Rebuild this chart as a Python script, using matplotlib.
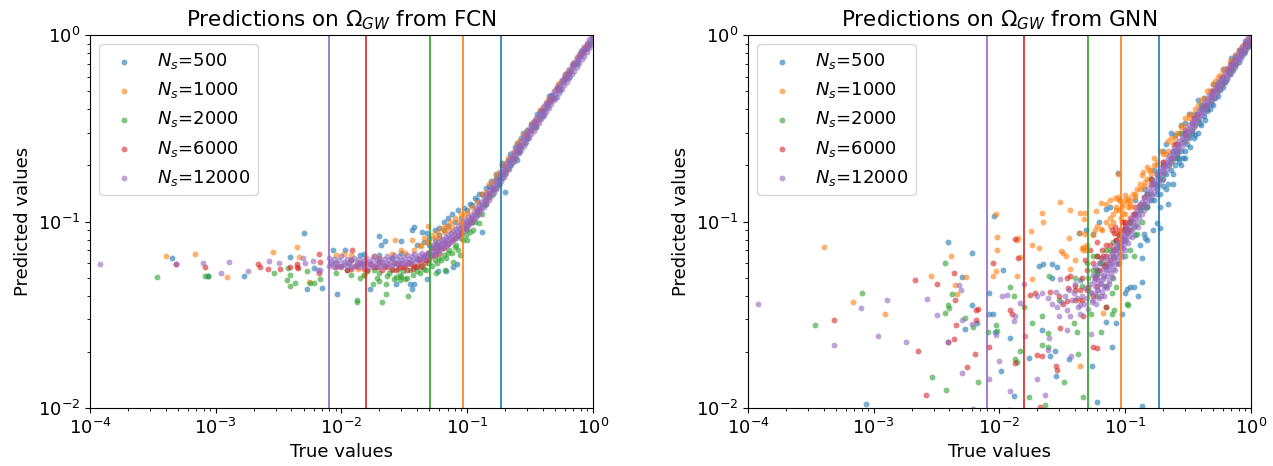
import numpy as np
import matplotlib
matplotlib.use("Agg")
import matplotlib.pyplot as plt

# sample sizes and the threshold lines (true value below which predictions degrade)
sizes = [500, 1000, 2000, 6000, 12000]
thresholds = [0.186, 0.0925, 0.0506, 0.0157, 0.0079]
colors = ["C0", "C1", "C2", "C3", "C4"]

# ---- FCN panel, (true, predicted) pairs ----
fcn_500 = [(4.5e-4, 0.0635), (8.6e-4, 0.0512), (1.69e-3, 0.0512), (3.9e-3, 0.0648), (5.06e-3, 0.0864),
           (5.35e-3, 0.0435), (6.1e-3, 0.0565), (6.96e-3, 0.0441), (0.0086, 0.0705), (0.0092, 0.041),
           (0.0107, 0.0705), (0.014, 0.0662), (0.017, 0.0435), (0.020, 0.0836), (0.0205, 0.0745),
           (0.022, 0.0789), (0.0298, 0.0782), (0.0362, 0.090), (0.0377, 0.093), (0.0437, 0.088),
           (0.0475, 0.0865), (0.0273, 0.0462), (0.0348, 0.0465), (0.038, 0.0462), (0.0362, 0.0435),
           (0.0475, 0.0495), (0.0585, 0.054), (0.0675, 0.0546), (0.0824, 0.0593), (0.0775, 0.0573),
           (0.1318, 0.088), (0.20, 0.144), (0.247, 0.213), (0.012, 0.062), (0.025, 0.064),
           (0.05, 0.075), (0.055, 0.08), (0.06, 0.085), (0.065, 0.09), (0.07, 0.095), (0.08, 0.10),
           (0.09, 0.105), (0.10, 0.115), (0.11, 0.122), (0.12, 0.13), (0.13, 0.14), (0.15, 0.155),
           (0.17, 0.172), (0.19, 0.20), (0.21, 0.215), (0.24, 0.25), (0.27, 0.28), (0.30, 0.31),
           (0.34, 0.345), (0.38, 0.39), (0.42, 0.43), (0.47, 0.48), (0.52, 0.53), (0.58, 0.57),
           (0.64, 0.63), (0.70, 0.70), (0.78, 0.76), (0.86, 0.84), (0.95, 0.91), (0.16, 0.15),
           (0.22, 0.20), (0.30, 0.28), (0.40, 0.37), (0.55, 0.51), (0.75, 0.70),
           (0.04, 0.075), (0.045, 0.078), (0.05, 0.082), (0.055, 0.09), (0.06, 0.092), (0.065, 0.10),
           (0.07, 0.105), (0.075, 0.11), (0.085, 0.115), (0.095, 0.118), (0.105, 0.125), (0.115, 0.133),
           (0.125, 0.14), (0.14, 0.152), (0.155, 0.165), (0.17, 0.18), (0.19, 0.205), (0.22, 0.23),
           (0.25, 0.265), (0.28, 0.30), (0.32, 0.335), (0.36, 0.38), (0.45, 0.47), (0.60, 0.62),
           (0.80, 0.82), (0.18, 0.16), (0.26, 0.24), (0.35, 0.32), (0.50, 0.46), (0.65, 0.60),
           (0.90, 0.85), (0.02, 0.066), (0.03, 0.068), (0.015, 0.067)]
fcn_1000 = [(4.0e-4, 0.0653), (6.9e-4, 0.0667), (1.23e-3, 0.0504), (2.84e-3, 0.0684), (4.46e-3, 0.0727),
            (4.6e-3, 0.0648), (5.5e-3, 0.0476), (0.0266, 0.0797), (0.0362, 0.0797), (0.049, 0.0945),
            (0.009, 0.066), (0.0105, 0.067), (0.012, 0.062), (0.015, 0.052), (0.0135, 0.056),
            (0.020, 0.064), (0.030, 0.070), (0.042, 0.075), (0.045, 0.082), (0.05, 0.078),
            (0.055, 0.082), (0.06, 0.083), (0.065, 0.088), (0.07, 0.09), (0.075, 0.094), (0.085, 0.10),
            (0.095, 0.108), (0.10, 0.112), (0.11, 0.12), (0.12, 0.128), (0.14, 0.145), (0.16, 0.165),
            (0.18, 0.185), (0.20, 0.205), (0.23, 0.235), (0.26, 0.27), (0.30, 0.305), (0.35, 0.355),
            (0.40, 0.41), (0.45, 0.46), (0.50, 0.51), (0.56, 0.57), (0.63, 0.64), (0.70, 0.71),
            (0.80, 0.80), (0.90, 0.90), (0.98, 0.97),
            (0.012, 0.066), (0.018, 0.065), (0.025, 0.067), (0.032, 0.068), (0.038, 0.07),
            (0.043, 0.074), (0.048, 0.078), (0.052, 0.085), (0.058, 0.088), (0.063, 0.092),
            (0.068, 0.095), (0.073, 0.10), (0.08, 0.105), (0.09, 0.11), (0.13, 0.14), (0.15, 0.16),
            (0.17, 0.178), (0.19, 0.20), (0.21, 0.22), (0.25, 0.26), (0.28, 0.29), (0.33, 0.34),
            (0.38, 0.395), (0.43, 0.445), (0.53, 0.55), (0.60, 0.615), (0.75, 0.765), (0.85, 0.86)]
fcn_2000 = [(3.4e-4, 0.0506), (8.2e-4, 0.0512), (8.6e-4, 0.0512), (2.9e-3, 0.0532), (3.75e-3, 0.0565),
            (3.87e-3, 0.0517), (3.7e-3, 0.0483), (3.9e-3, 0.0454), (4.3e-3, 0.047), (5.35e-3, 0.054),
            (5.6e-3, 0.047), (6.1e-3, 0.047), (6.7e-3, 0.0494), (0.0132, 0.0378), (0.0133, 0.0372),
            (0.0178, 0.0462), (0.020, 0.0481), (0.0227, 0.046), (0.0227, 0.041), (0.021, 0.0372),
            (0.0273, 0.0506), (0.0292, 0.0484), (0.032, 0.0495), (0.0335, 0.040), (0.030, 0.0506),
            (0.0567, 0.0527), (0.066, 0.055), (0.0775, 0.0609), (0.087, 0.0662), (0.099, 0.0797),
            (0.111, 0.090), (0.125, 0.098), (0.009, 0.053), (0.011, 0.055), (0.015, 0.052),
            (0.018, 0.055), (0.024, 0.053), (0.028, 0.056), (0.035, 0.055), (0.040, 0.054),
            (0.045, 0.056), (0.05, 0.060), (0.055, 0.062), (0.06, 0.064), (0.07, 0.068), (0.08, 0.073),
            (0.09, 0.082), (0.10, 0.09), (0.11, 0.10), (0.12, 0.108), (0.135, 0.122), (0.15, 0.135),
            (0.17, 0.152), (0.19, 0.172), (0.21, 0.192), (0.24, 0.22), (0.27, 0.25), (0.30, 0.28),
            (0.34, 0.32), (0.38, 0.36), (0.43, 0.41), (0.48, 0.46), (0.54, 0.52), (0.60, 0.58),
            (0.67, 0.65), (0.75, 0.72), (0.84, 0.81), (0.93, 0.90),
            (0.012, 0.052), (0.014, 0.050), (0.016, 0.054), (0.019, 0.050), (0.020, 0.053),
            (0.023, 0.051), (0.025, 0.055), (0.026, 0.049), (0.029, 0.052), (0.031, 0.054),
            (0.033, 0.050), (0.037, 0.052), (0.039, 0.057), (0.042, 0.053), (0.044, 0.058),
            (0.047, 0.055), (0.052, 0.058), (0.058, 0.060), (0.062, 0.062), (0.065, 0.066),
            (0.068, 0.064), (0.072, 0.070), (0.076, 0.068), (0.082, 0.075), (0.085, 0.070),
            (0.093, 0.080), (0.097, 0.085), (0.105, 0.088), (0.115, 0.10), (0.13, 0.11),
            (0.14, 0.125), (0.16, 0.14), (0.18, 0.16), (0.20, 0.18), (0.23, 0.21), (0.26, 0.235),
            (0.29, 0.265)]
fcn_6000 = [(4.8e-4, 0.059), (8.2e-4, 0.0573), (2.16e-3, 0.059), (2.24e-3, 0.0573), (2.6e-3, 0.0558),
            (3.24e-3, 0.0558), (3.87e-3, 0.0573), (4.4e-3, 0.0573), (4.5e-3, 0.0565), (4.45e-3, 0.059),
            (6.6e-3, 0.0667), (6.8e-3, 0.0609), (6.6e-3, 0.0527), (0.0121, 0.070), (0.009, 0.057),
            (0.011, 0.055), (0.013, 0.058), (0.015, 0.056), (0.017, 0.059), (0.019, 0.057),
            (0.022, 0.058), (0.025, 0.056), (0.028, 0.059), (0.031, 0.057), (0.034, 0.060),
            (0.038, 0.058), (0.042, 0.061), (0.046, 0.060), (0.05, 0.063), (0.055, 0.066), (0.06, 0.068),
            (0.065, 0.072), (0.07, 0.076), (0.08, 0.082), (0.09, 0.088), (0.10, 0.096), (0.11, 0.104),
            (0.125, 0.117), (0.14, 0.13), (0.16, 0.15), (0.18, 0.17), (0.20, 0.19), (0.23, 0.22),
            (0.26, 0.25), (0.30, 0.29), (0.35, 0.34), (0.40, 0.39), (0.46, 0.45), (0.53, 0.52),
            (0.60, 0.59), (0.70, 0.69), (0.80, 0.79), (0.90, 0.88), (1.0, 0.97),
            (0.010, 0.058), (0.012, 0.056), (0.014, 0.060), (0.016, 0.055), (0.018, 0.057),
            (0.020, 0.061), (0.021, 0.055), (0.023, 0.057), (0.026, 0.060), (0.027, 0.055),
            (0.029, 0.057), (0.032, 0.058), (0.033, 0.055), (0.036, 0.059), (0.037, 0.056),
            (0.040, 0.058), (0.041, 0.063), (0.043, 0.057), (0.045, 0.065), (0.047, 0.062),
            (0.049, 0.068), (0.052, 0.066), (0.053, 0.072), (0.057, 0.070), (0.058, 0.075),
            (0.062, 0.073), (0.067, 0.078), (0.075, 0.080), (0.085, 0.085), (0.095, 0.092),
            (0.105, 0.10), (0.12, 0.112), (0.15, 0.14), (0.19, 0.18), (0.25, 0.24), (0.32, 0.31),
            (0.45, 0.44), (0.65, 0.63), (0.85, 0.83)]
fcn_12000 = [(1.19e-4, 0.059), (4.8e-4, 0.059), (7.9e-4, 0.0596), (1.10e-3, 0.0532), (1.27e-3, 0.0604),
             (1.82e-3, 0.054), (2.64e-3, 0.0616), (3.18e-3, 0.0601), (4.9e-3, 0.064), (5.1e-3, 0.0596),
             (5.9e-3, 0.0616), (6.5e-3, 0.055), (6.8e-3, 0.0553)]
# dense purple floor between the purple and green lines
fcn_floor_x = [0.0079, 0.0083, 0.0087, 0.0091, 0.0095, 0.0100, 0.0105, 0.0110, 0.0115, 0.0120,
               0.0126, 0.0132, 0.0138, 0.0145, 0.0151, 0.0158, 0.0166, 0.0174, 0.0182, 0.0191,
               0.0200, 0.0209, 0.0219, 0.0229, 0.0240, 0.0251, 0.0263, 0.0275, 0.0288, 0.0302,
               0.0316, 0.0331, 0.0347, 0.0363, 0.0380, 0.0398, 0.0417, 0.0437, 0.0457, 0.0479]
fcn_floor_ya = [0.064, 0.061, 0.063, 0.060, 0.062, 0.065, 0.061, 0.063, 0.060, 0.062,
                0.064, 0.061, 0.063, 0.060, 0.062, 0.064, 0.061, 0.063, 0.065, 0.062,
                0.064, 0.061, 0.063, 0.065, 0.062, 0.064, 0.066, 0.063, 0.065, 0.062,
                0.064, 0.066, 0.063, 0.065, 0.067, 0.064, 0.066, 0.068, 0.065, 0.067]
fcn_floor_yb = [0.058, 0.059, 0.057, 0.060, 0.058, 0.057, 0.059, 0.058, 0.060, 0.057,
                0.058, 0.059, 0.057, 0.059, 0.058, 0.060, 0.057, 0.059, 0.058, 0.060,
                0.057, 0.059, 0.058, 0.060, 0.059, 0.058, 0.060, 0.059, 0.061, 0.060,
                0.059, 0.061, 0.060, 0.062, 0.061, 0.063, 0.062, 0.064, 0.063, 0.066]
# purple knee of the FCN curve (0.05 - 0.2)
fcn_knee_x = [0.0501, 0.0525, 0.0550, 0.0575, 0.0603, 0.0631, 0.0661, 0.0692, 0.0724, 0.0759,
              0.0794, 0.0832, 0.0871, 0.0912, 0.0955, 0.100, 0.1047, 0.1096, 0.1148, 0.1202,
              0.1259, 0.1318, 0.1380, 0.1445, 0.1514, 0.1585, 0.1660, 0.1738, 0.1820, 0.1905]
fcn_knee_y = [0.069, 0.070, 0.072, 0.073, 0.075, 0.077, 0.078, 0.080, 0.082, 0.084,
              0.086, 0.088, 0.091, 0.093, 0.096, 0.099, 0.102, 0.106, 0.110, 0.115,
              0.119, 0.125, 0.130, 0.136, 0.142, 0.149, 0.156, 0.164, 0.172, 0.181]
fcn_knee_x2 = [0.0513, 0.0537, 0.0562, 0.0589, 0.0617, 0.0646, 0.0676, 0.0708, 0.0741, 0.0776,
               0.0813, 0.0851, 0.0891, 0.0933, 0.0977, 0.1023, 0.1072, 0.1122, 0.1175, 0.1230,
               0.1288, 0.1349, 0.1413, 0.1479, 0.1549, 0.1622, 0.1698, 0.1778, 0.1862, 0.1950]
fcn_knee_up = [0.073, 0.0745, 0.076, 0.078, 0.080, 0.081, 0.083, 0.085, 0.087, 0.089,
               0.091, 0.094, 0.0965, 0.099, 0.102, 0.1055, 0.109, 0.113, 0.118, 0.123,
               0.128, 0.134, 0.140, 0.146, 0.153, 0.160, 0.168, 0.176, 0.185, 0.195]
fcn_knee_lo = [0.0653, 0.0667, 0.0682, 0.0696, 0.0714, 0.0729, 0.0743, 0.0761, 0.078, 0.080,
               0.0818, 0.0841, 0.0865, 0.0888, 0.0917, 0.0945, 0.0978, 0.1015, 0.1058, 0.110,
               0.1147, 0.1199, 0.125, 0.1307, 0.1368, 0.1434, 0.1504, 0.1579, 0.1659, 0.1744]

# ---- the straight part of the purple band (x > 0.2) looks the same in both panels ----
band_x = [0.1995, 0.2089, 0.2188, 0.2291, 0.2399, 0.2512, 0.2630, 0.2754, 0.2884, 0.3020,
          0.3162, 0.3311, 0.3467, 0.3631, 0.3802, 0.3981, 0.4169, 0.4365, 0.4571, 0.4786,
          0.5012, 0.5248, 0.5495, 0.5754, 0.6026, 0.6310, 0.6607, 0.6918, 0.7244, 0.7586,
          0.7943, 0.8318, 0.8710, 0.9120, 0.9550, 1.0]
band_y = [0.190, 0.199, 0.209, 0.219, 0.230, 0.241, 0.253, 0.265, 0.278, 0.291,
          0.305, 0.320, 0.335, 0.351, 0.368, 0.386, 0.404, 0.423, 0.443, 0.464,
          0.486, 0.509, 0.533, 0.558, 0.585, 0.612, 0.641, 0.671, 0.703, 0.736,
          0.771, 0.807, 0.845, 0.885, 0.926, 0.970]
band_x2 = [0.2042, 0.2138, 0.2239, 0.2344, 0.2455, 0.2570, 0.2692, 0.2818, 0.2951, 0.3090,
           0.3236, 0.3388, 0.3548, 0.3715, 0.3890, 0.4074, 0.4266, 0.4467, 0.4677, 0.4898,
           0.5129, 0.5370, 0.5623, 0.5888, 0.6166, 0.6457, 0.6761, 0.7079, 0.7413, 0.7762,
           0.8128, 0.8511, 0.8913, 0.9333, 0.9772]
band_up = [0.204, 0.214, 0.225, 0.236, 0.247, 0.259, 0.272, 0.285, 0.299, 0.313,
           0.328, 0.344, 0.360, 0.377, 0.396, 0.415, 0.434, 0.455, 0.476, 0.499,
           0.522, 0.547, 0.573, 0.600, 0.628, 0.658, 0.689, 0.721, 0.755, 0.791,
           0.828, 0.867, 0.908, 0.951, 0.995]
band_lo = [0.1828, 0.1918, 0.2012, 0.211, 0.2214, 0.2322, 0.2435, 0.2552, 0.2674, 0.2801,
           0.2938, 0.3079, 0.3224, 0.3379, 0.3544, 0.3713, 0.3887, 0.407, 0.4263, 0.4465,
           0.4677, 0.4897, 0.5128, 0.5372, 0.5626, 0.5889, 0.6166, 0.6458, 0.6763, 0.7083,
           0.7417, 0.7764, 0.8131, 0.8512, 0.8911]

# ---- GNN panel ----
gnn_500 = [(8.6e-4, 0.0105), (3.9e-3, 0.0773), (5.0e-3, 0.0506), (5.3e-3, 0.0266), (6.0e-3, 0.0675),
           (6.0e-3, 0.0355), (6.6e-3, 0.0284), (8.3e-3, 0.0414), (8.2e-3, 0.0318), (8.9e-3, 0.032),
           (0.0091, 0.107), (0.0092, 0.0255), (0.0106, 0.0549), (0.0121, 0.0236), (0.0102, 0.0158),
           (0.013, 0.0116), (0.0172, 0.0186), (0.0206, 0.0581), (0.022, 0.059), (0.026, 0.059),
           (0.0285, 0.057), (0.026, 0.050), (0.0217, 0.0262), (0.0274, 0.0201), (0.0252, 0.019),
           (0.028, 0.0148), (0.036, 0.0183), (0.0425, 0.0873), (0.0487, 0.090), (0.055, 0.0853),
           (0.0622, 0.0997), (0.0702, 0.1173), (0.0757, 0.1195), (0.054, 0.0167), (0.0524, 0.0098),
           (0.0595, 0.0108), (0.078, 0.0213), (0.109, 0.0445), (0.118, 0.0445), (0.126, 0.0397),
           (0.10, 0.0413), (0.104, 0.0436), (0.0945, 0.032), (0.135, 0.0476), (0.137, 0.0103),
           (0.14, 0.0853), (0.137, 0.064), (0.144, 0.082), (0.088, 0.183), (0.0437, 0.0485),
           (0.0575, 0.051), (0.0595, 0.054), (0.085, 0.0285), (0.070, 0.029), (0.063, 0.060),
           (0.13, 0.075), (0.15, 0.08), (0.165, 0.09), (0.18, 0.098), (0.12, 0.085), (0.19, 0.092),
           (0.15, 0.12), (0.17, 0.13), (0.19, 0.14), (0.20, 0.155), (0.22, 0.16), (0.22, 0.125),
           (0.24, 0.18), (0.25, 0.20), (0.27, 0.21), (0.29, 0.22), (0.30, 0.24), (0.33, 0.25),
           (0.35, 0.28), (0.38, 0.30), (0.40, 0.33), (0.43, 0.35), (0.47, 0.40), (0.50, 0.42),
           (0.55, 0.47), (0.60, 0.53), (0.65, 0.58), (0.72, 0.65), (0.80, 0.72), (0.88, 0.80),
           (0.95, 0.88), (0.12, 0.13), (0.14, 0.15), (0.17, 0.19), (0.20, 0.24), (0.25, 0.29),
           (0.30, 0.34), (0.35, 0.38), (0.42, 0.46), (0.50, 0.55), (0.60, 0.66), (0.70, 0.75),
           (0.80, 0.83), (0.90, 0.93), (0.28, 0.33), (0.38, 0.45), (0.26, 0.23), (0.32, 0.28),
           (0.45, 0.39), (0.18, 0.15), (0.21, 0.18),
           (0.16, 0.13), (0.18, 0.14), (0.20, 0.17), (0.21, 0.15), (0.23, 0.19), (0.24, 0.16),
           (0.26, 0.22), (0.28, 0.24), (0.28, 0.20), (0.31, 0.26), (0.34, 0.30), (0.36, 0.29),
           (0.39, 0.34), (0.42, 0.37), (0.45, 0.40), (0.48, 0.43), (0.52, 0.46), (0.57, 0.51),
           (0.62, 0.56), (0.68, 0.62), (0.75, 0.69), (0.82, 0.76), (0.90, 0.83), (0.98, 0.90),
           (0.11, 0.10), (0.12, 0.11), (0.13, 0.12), (0.14, 0.125), (0.15, 0.14), (0.17, 0.16),
           (0.20, 0.20), (0.24, 0.24), (0.30, 0.30), (0.40, 0.40), (0.55, 0.56), (0.75, 0.77),
           (0.21, 0.26), (0.23, 0.30), (0.32, 0.38), (0.27, 0.22), (0.30, 0.22), (0.19, 0.12)]
gnn_1000 = [(4.0e-4, 0.0727), (6.9e-4, 0.0369), (1.23e-3, 0.0318), (2.84e-3, 0.0512), (4.14e-3, 0.0651),
            (4.44e-3, 0.0457), (4.6e-3, 0.0409), (5.4e-3, 0.0506), (8.8e-3, 0.0512), (0.0094, 0.110),
            (0.0095, 0.0823), (0.0096, 0.0704), (0.0094, 0.0545), (0.014, 0.0815), (0.0139, 0.080),
            (0.0145, 0.0644), (0.0138, 0.051), (0.0177, 0.0895), (0.0183, 0.0748), (0.0207, 0.0718),
            (0.0218, 0.1115), (0.0222, 0.0997), (0.018, 0.0489), (0.0303, 0.1267), (0.0364, 0.1152),
            (0.036, 0.0815), (0.0306, 0.0697), (0.032, 0.068), (0.034, 0.0655), (0.0364, 0.056),
            (0.040, 0.062), (0.0437, 0.1106), (0.048, 0.111), (0.047, 0.1035), (0.044, 0.0868),
            (0.048, 0.0853), (0.046, 0.0704), (0.0473, 0.0727), (0.0487, 0.0704), (0.0425, 0.038),
            (0.0577, 0.090), (0.0643, 0.0915), (0.059, 0.1135), (0.0643, 0.126), (0.0702, 0.125),
            (0.0757, 0.131), (0.083, 0.1334), (0.088, 0.1362), (0.0908, 0.131), (0.0995, 0.139),
            (0.106, 0.1334), (0.085, 0.1152), (0.0965, 0.1106), (0.103, 0.1267), (0.109, 0.125),
            (0.144, 0.1635), (0.135, 0.1775), (0.139, 0.185), (0.148, 0.1968), (0.088, 0.1795),
            (0.085, 0.0868), (0.066, 0.0322), (0.0437, 0.0167), (0.09, 0.115), (0.092, 0.105),
            (0.095, 0.12), (0.10, 0.11), (0.10, 0.10), (0.08, 0.10), (0.075, 0.095), (0.17, 0.22),
            (0.19, 0.24), (0.20, 0.21), (0.22, 0.27), (0.25, 0.28), (0.28, 0.32), (0.30, 0.36),
            (0.33, 0.38), (0.36, 0.40), (0.40, 0.45), (0.45, 0.50), (0.50, 0.55), (0.55, 0.60),
            (0.60, 0.65), (0.70, 0.74), (0.80, 0.83), (0.90, 0.90), (1.0, 0.95), (0.12, 0.14),
            (0.13, 0.15), (0.11, 0.12), (0.16, 0.19), (0.18, 0.20), (0.21, 0.23), (0.24, 0.26),
            (0.27, 0.30),
            (0.065, 0.09), (0.07, 0.10), (0.075, 0.105), (0.08, 0.11), (0.085, 0.12), (0.09, 0.13),
            (0.095, 0.125), (0.10, 0.13), (0.105, 0.12), (0.11, 0.13), (0.115, 0.14), (0.12, 0.135),
            (0.125, 0.15), (0.13, 0.16), (0.14, 0.155), (0.15, 0.17), (0.155, 0.19), (0.16, 0.18),
            (0.17, 0.20), (0.18, 0.21), (0.20, 0.23), (0.22, 0.24), (0.23, 0.28), (0.26, 0.30),
            (0.29, 0.33), (0.32, 0.36), (0.35, 0.37), (0.38, 0.42), (0.42, 0.46), (0.47, 0.51),
            (0.52, 0.57), (0.57, 0.61), (0.63, 0.67), (0.68, 0.72), (0.75, 0.78), (0.85, 0.87),
            (0.95, 0.97), (0.055, 0.085), (0.06, 0.095), (0.05, 0.075), (0.045, 0.072)]
gnn_2000 = [(3.4e-4, 0.028), (8.1e-4, 0.0414), (3.68e-3, 0.0597), (3.9e-3, 0.0359), (3.95e-3, 0.0342),
            (3.7e-3, 0.0325), (4.2e-3, 0.0409), (2.9e-3, 0.0146), (3.75e-3, 0.0125), (5.3e-3, 0.0305),
            (6.1e-3, 0.0273), (6.7e-3, 0.0137), (8.1e-3, 0.0256), (0.0094, 0.028), (0.0096, 0.026),
            (0.0121, 0.0447), (0.013, 0.0397), (0.01456, 0.0201), (0.0134, 0.0183), (0.0138, 0.0177),
            (0.0172, 0.0114), (0.0157, 0.035), (0.018, 0.0285), (0.0216, 0.031), (0.0245, 0.0252),
            (0.0242, 0.0213), (0.0218, 0.0217), (0.0247, 0.0508), (0.0229, 0.0104), (0.0295, 0.038),
            (0.0326, 0.0137), (0.039, 0.0285), (0.0412, 0.0256), (0.042, 0.0196), (0.0463, 0.0114),
            (0.0505, 0.0498), (0.055, 0.0549), (0.0595, 0.0525), (0.0538, 0.032), (0.0643, 0.0257),
            (0.070, 0.0348), (0.0785, 0.0413), (0.085, 0.0447), (0.078, 0.032), (0.081, 0.0335),
            (0.103, 0.0362), (0.109, 0.0704), (0.118, 0.065), (0.135, 0.0997), (0.148, 0.1195),
            (0.124, 0.0853), (0.105, 0.0355), (0.06, 0.065), (0.07, 0.07), (0.08, 0.078), (0.09, 0.085),
            (0.10, 0.092), (0.12, 0.11), (0.15, 0.14), (0.18, 0.16), (0.20, 0.18), (0.23, 0.21),
            (0.26, 0.24), (0.30, 0.27), (0.34, 0.31), (0.38, 0.35), (0.43, 0.40), (0.48, 0.45),
            (0.54, 0.50), (0.60, 0.56), (0.67, 0.63), (0.75, 0.70), (0.84, 0.79), (0.94, 0.88),
            (0.28, 0.30), (0.40, 0.42), (0.16, 0.17), (0.11, 0.10),
            (0.05, 0.06), (0.055, 0.065), (0.06, 0.055), (0.065, 0.06), (0.07, 0.058), (0.075, 0.07),
            (0.08, 0.065), (0.085, 0.072), (0.09, 0.075), (0.095, 0.08), (0.10, 0.08), (0.11, 0.09),
            (0.12, 0.095), (0.13, 0.115), (0.14, 0.12), (0.16, 0.14), (0.19, 0.17), (0.22, 0.20),
            (0.25, 0.22), (0.32, 0.29), (0.36, 0.33), (0.45, 0.42), (0.58, 0.54), (0.70, 0.66),
            (0.90, 0.85), (0.04, 0.05), (0.045, 0.045), (0.06, 0.04), (0.07, 0.045), (0.08, 0.05),
            (0.09, 0.06), (0.10, 0.065)]
gnn_6000 = [(4.8e-4, 0.0295), (2.14e-3, 0.0486), (2.23e-3, 0.0201), (2.59e-3, 0.0117), (3.2e-3, 0.0462),
            (3.92e-3, 0.0226), (4.37e-3, 0.0532), (4.45e-3, 0.0378), (4.5e-3, 0.028), (4.37e-3, 0.0235),
            (5.5e-3, 0.0165), (6.4e-3, 0.0194), (6.5e-3, 0.0335), (6.8e-3, 0.0338), (6.5e-3, 0.0295),
            (8.3e-3, 0.0212), (8.9e-3, 0.0601), (0.0121, 0.0335), (0.0125, 0.032), (0.0134, 0.0174),
            (0.0118, 0.0098), (0.0175, 0.0405), (0.0193, 0.0413), (0.0197, 0.0192), (0.021, 0.0101),
            (0.0216, 0.019), (0.028, 0.0167), (0.0285, 0.016), (0.0303, 0.0268), (0.0343, 0.050),
            (0.0364, 0.051), (0.0343, 0.0373), (0.040, 0.038), (0.046, 0.031), (0.040, 0.0429),
            (0.0437, 0.0429), (0.0505, 0.0447), (0.055, 0.0397), (0.055, 0.0213), (0.0595, 0.0209),
            (0.0643, 0.064), (0.070, 0.0348), (0.078, 0.090), (0.081, 0.0868), (0.083, 0.0936),
            (0.066, 0.065), (0.070, 0.059), (0.0757, 0.062), (0.103, 0.0868), (0.0133, 0.0803),
            (0.0141, 0.064), (0.09, 0.09), (0.10, 0.095), (0.11, 0.105), (0.12, 0.12), (0.14, 0.135),
            (0.16, 0.16), (0.18, 0.18), (0.20, 0.20), (0.23, 0.22), (0.26, 0.26), (0.30, 0.29),
            (0.34, 0.34), (0.38, 0.38), (0.43, 0.42), (0.48, 0.48), (0.54, 0.53), (0.60, 0.60),
            (0.67, 0.66), (0.75, 0.74), (0.84, 0.82), (0.94, 0.92), (0.06, 0.065), (0.07, 0.075),
            (0.085, 0.08),
            (0.04, 0.045), (0.045, 0.05), (0.05, 0.055), (0.055, 0.06), (0.06, 0.045), (0.065, 0.07),
            (0.07, 0.065), (0.075, 0.075), (0.08, 0.07), (0.085, 0.08), (0.09, 0.085), (0.095, 0.09),
            (0.10, 0.10), (0.105, 0.09), (0.11, 0.10), (0.115, 0.11), (0.12, 0.11), (0.13, 0.125),
            (0.045, 0.038), (0.05, 0.043), (0.058, 0.05), (0.062, 0.055), (0.068, 0.058),
            (0.035, 0.044), (0.03, 0.04), (0.025, 0.042), (0.032, 0.036), (0.048, 0.062),
            (0.052, 0.07), (0.06, 0.078), (0.095, 0.10), (0.10, 0.09), (0.16, 0.17), (0.20, 0.21),
            (0.25, 0.26), (0.30, 0.31), (0.35, 0.36), (0.50, 0.50), (0.70, 0.70), (0.90, 0.90)]
gnn_12000 = [(1.19e-4, 0.036), (4.8e-4, 0.0218), (7.9e-4, 0.0342), (1.28e-3, 0.0378), (1.09e-3, 0.0244),
             (1.82e-3, 0.0226), (2.64e-3, 0.0383), (3.18e-3, 0.0314), (3.92e-3, 0.0226), (4.8e-3, 0.0457),
             (4.95e-3, 0.043), (5.0e-3, 0.0295), (6.0e-3, 0.0282), (5.0e-3, 0.0155), (8.2e-3, 0.0143),
             (6.2e-3, 0.0099), (0.0094, 0.0245), (0.010, 0.0179), (0.0104, 0.0397), (0.0114, 0.0405),
             (0.0121, 0.0123), (0.0134, 0.031), (0.013, 0.0292), (0.0157, 0.0463), (0.01456, 0.0366),
             (0.016, 0.0242), (0.0197, 0.0397), (0.0216, 0.0413), (0.0242, 0.039), (0.020, 0.0143),
             (0.0229, 0.0117), (0.0247, 0.0236), (0.0242, 0.0205), (0.026, 0.0362), (0.0285, 0.0348),
             (0.0295, 0.031), (0.0303, 0.049), (0.0343, 0.0335), (0.0364, 0.031), (0.039, 0.0413),
             (0.0412, 0.039), (0.0437, 0.0355), (0.0343, 0.0262), (0.037, 0.019), (0.0538, 0.025),
             (0.0524, 0.0412), (0.055, 0.038), (0.0595, 0.0429), (0.063, 0.0465), (0.0643, 0.0397),
             (0.066, 0.0507), (0.070, 0.0549), (0.0737, 0.0465), (0.0757, 0.0595), (0.081, 0.0644),
             (0.083, 0.0549), (0.085, 0.0704), (0.0908, 0.0733), (0.094, 0.0644), (0.0965, 0.0796),
             (0.106, 0.0766), (0.061, 0.0486), (0.068, 0.0447), (0.078, 0.0507), (0.088, 0.0595),
             (0.10, 0.0704), (0.113, 0.0828), (0.127, 0.0935),
             (0.045, 0.040), (0.047, 0.036), (0.048, 0.044), (0.050, 0.039), (0.051, 0.034),
             (0.052, 0.046), (0.053, 0.042), (0.054, 0.037), (0.056, 0.048), (0.057, 0.041),
             (0.058, 0.045), (0.059, 0.036), (0.060, 0.050), (0.061, 0.043), (0.062, 0.039),
             (0.063, 0.053), (0.064, 0.047), (0.065, 0.042), (0.066, 0.056), (0.067, 0.049),
             (0.068, 0.052), (0.069, 0.045), (0.070, 0.058), (0.071, 0.051), (0.072, 0.062),
             (0.073, 0.055), (0.074, 0.048), (0.075, 0.065), (0.076, 0.058), (0.077, 0.053),
             (0.078, 0.068), (0.079, 0.061), (0.080, 0.056), (0.081, 0.071), (0.082, 0.064),
             (0.083, 0.059), (0.084, 0.075), (0.085, 0.067), (0.086, 0.062), (0.087, 0.078),
             (0.088, 0.070), (0.089, 0.065), (0.090, 0.073), (0.092, 0.068), (0.094, 0.078),
             (0.096, 0.072), (0.098, 0.082), (0.055, 0.052), (0.058, 0.057), (0.062, 0.060),
             (0.066, 0.064), (0.068, 0.040), (0.072, 0.044), (0.040, 0.046), (0.042, 0.035),
             (0.038, 0.038), (0.036, 0.043), (0.033, 0.040), (0.044, 0.032), (0.031, 0.037),
             (0.028, 0.042)]
# purple knee of the GNN band (0.09 - 0.2)
gnn_knee_x = [0.0912, 0.0955, 0.100, 0.1047, 0.1096, 0.1148, 0.1202, 0.1259, 0.1318, 0.1380,
              0.1445, 0.1514, 0.1585, 0.1660, 0.1738, 0.1820, 0.1905]
gnn_knee_y = [0.077, 0.081, 0.085, 0.089, 0.094, 0.099, 0.104, 0.110, 0.117, 0.123,
              0.130, 0.137, 0.145, 0.153, 0.162, 0.171, 0.180]
gnn_knee_x2 = [0.0933, 0.0977, 0.1023, 0.1072, 0.1122, 0.1175, 0.1230, 0.1288, 0.1349, 0.1413,
               0.1479, 0.1549, 0.1622, 0.1698, 0.1778, 0.1862, 0.1950]
gnn_knee_up = [0.084, 0.088, 0.093, 0.098, 0.103, 0.108, 0.114, 0.121, 0.128, 0.135,
               0.143, 0.151, 0.159, 0.168, 0.177, 0.186, 0.195]
gnn_knee_lo = [0.073, 0.076, 0.080, 0.084, 0.089, 0.093, 0.098, 0.104, 0.110, 0.116,
               0.123, 0.130, 0.137, 0.145, 0.153, 0.160, 0.168]


def split(pts):
    xs, ys = zip(*pts)
    return list(xs), list(ys)


def purple_extra(pairs_x, pairs_y):
    xs, ys = [], []
    for a, b in zip(pairs_x, pairs_y):
        xs += list(a)
        ys += list(b)
    return xs, ys


fcn_series = [split(p) for p in [fcn_500, fcn_1000, fcn_2000, fcn_6000, fcn_12000]]
gnn_series = [split(p) for p in [gnn_500, gnn_1000, gnn_2000, gnn_6000, gnn_12000]]

ex, ey = purple_extra(
    [fcn_floor_x, fcn_floor_x, fcn_knee_x, fcn_knee_x2, fcn_knee_x2, band_x, band_x2, band_x2],
    [fcn_floor_ya, fcn_floor_yb, fcn_knee_y, fcn_knee_up, fcn_knee_lo, band_y, band_up, band_lo])
fcn_series[4] = (fcn_series[4][0] + ex, fcn_series[4][1] + ey)
ex, ey = purple_extra(
    [gnn_knee_x, gnn_knee_x2, gnn_knee_x2, band_x, band_x2, band_x2],
    [gnn_knee_y, gnn_knee_up, gnn_knee_lo, band_y, band_up, band_lo])
gnn_series[4] = (gnn_series[4][0] + ex, gnn_series[4][1] + ey)

fig = plt.figure(figsize=(12.73, 4.66), dpi=100)
ax1 = fig.add_axes([0.0707, 0.1245, 0.3951, 0.80])
ax2 = fig.add_axes([0.5876, 0.1245, 0.3951, 0.80])

for ax, series, name in [(ax1, fcn_series, "FCN"), (ax2, gnn_series, "GNN")]:
    for (xs, ys), n, c in zip(series, sizes, colors):
        ax.scatter(xs, ys, s=18, color=c, alpha=0.6, linewidths=0, label=f"$N_s$={n}")
    for thr, c in zip(thresholds, colors):
        ax.axvline(thr, color=c, lw=1.2)
    ax.set_xscale("log")
    ax.set_yscale("log")
    ax.set_xlim(1e-4, 1)
    ax.set_ylim(1e-2, 1)
    ax.tick_params(labelsize=13)
    ax.set_xlabel("True values", fontsize=13)
    ax.set_ylabel("Predicted values", fontsize=13)
    ax.set_title(r"Predictions on $\Omega_{GW}$ from " + name, fontsize=15.5)
    ax.legend(loc="upper left", fontsize=13)

fig.savefig("out.png", dpi=100)
